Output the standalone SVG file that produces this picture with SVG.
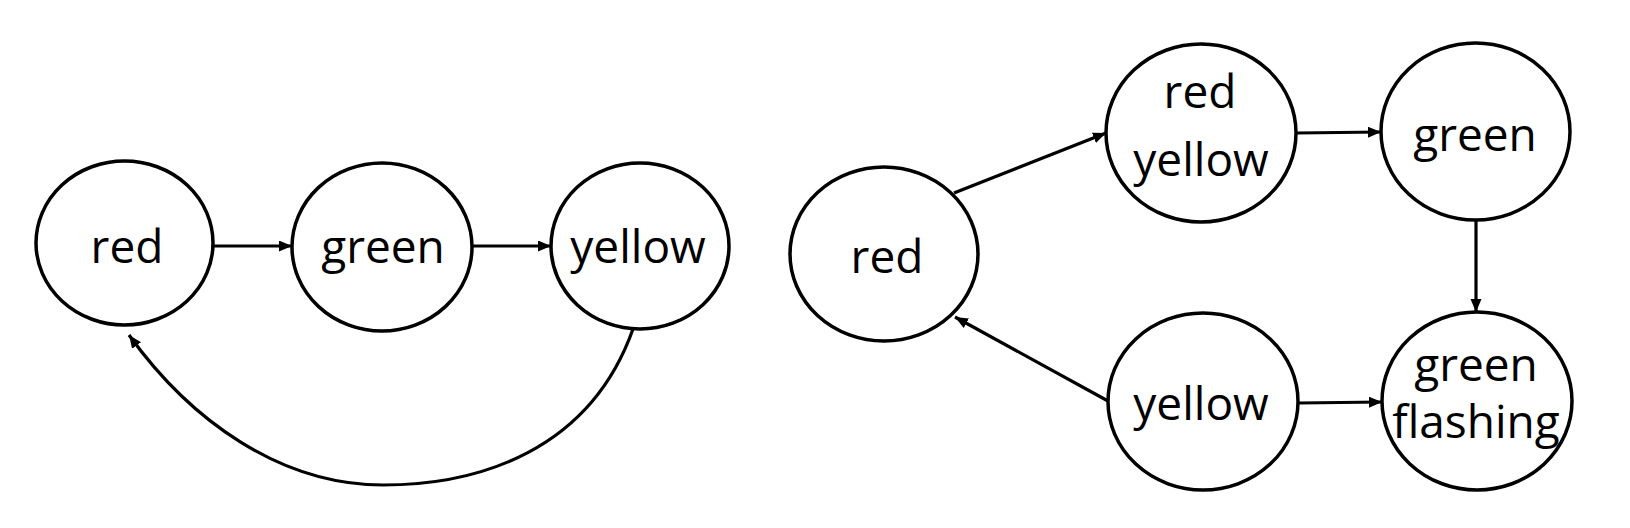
<svg xmlns="http://www.w3.org/2000/svg" width="1630" height="528" viewBox="0 0 1630 528">
<style>
.node ellipse{fill:#fff;stroke:#000;stroke-width:3.5}
.node text{font-family:"Open Sans","Noto Sans",sans-serif;font-size:46px;fill:#000;text-anchor:middle}
.edge{fill:none;stroke:#000;stroke-width:3.2}
</style>
<defs>
<marker id="ah" markerUnits="userSpaceOnUse" markerWidth="14" markerHeight="12" refX="13" refY="5.5" orient="auto">
<path d="M0,0 L13,5.5 L0,11 z" fill="#000"/>
</marker>
</defs>
<g id="connectors">
<line class="edge" x1="213" y1="246" x2="292" y2="246" marker-end="url(#ah)"/>
<line class="edge" x1="471" y1="246" x2="551" y2="246" marker-end="url(#ah)"/>
<path class="edge" d="M633,329 C590,450 480,485 383,485 C280,485 190,420 129,335" marker-end="url(#ah)"/>
<line class="edge" x1="954" y1="193" x2="1106" y2="133" marker-end="url(#ah)"/>
<line class="edge" x1="1297" y1="133" x2="1381" y2="132" marker-end="url(#ah)"/>
<line class="edge" x1="1476" y1="221" x2="1476" y2="312" marker-end="url(#ah)"/>
<line class="edge" x1="1108" y1="401" x2="955" y2="317" marker-end="url(#ah)"/>
<line class="edge" x1="1299" y1="403" x2="1382" y2="402" marker-end="url(#ah)"/>
</g>
<g id="l-red" class="node"><ellipse cx="124.5" cy="243" rx="88.5" ry="82"/><text x="127" y="263">red</text></g>
<g id="l-green" class="node"><ellipse cx="382" cy="247" rx="90" ry="84"/><text x="383" y="263">green</text></g>
<g id="l-yellow" class="node"><ellipse cx="640" cy="246" rx="89" ry="83"/><text x="638" y="263">yellow</text></g>
<g id="r-red" class="node"><ellipse cx="884" cy="254" rx="94" ry="87"/><text x="887" y="273">red</text></g>
<g id="r-redyellow" class="node"><ellipse cx="1201" cy="133" rx="95" ry="89"/><text x="1200" y="108">red</text><text x="1201" y="176">yellow</text></g>
<g id="r-green" class="node"><ellipse cx="1475.5" cy="131.5" rx="94.5" ry="88.5"/><text x="1475" y="151">green</text></g>
<g id="r-yellow" class="node"><ellipse cx="1203" cy="401.5" rx="95" ry="88.5"/><text x="1201" y="420">yellow</text></g>
<g id="r-greenflashing" class="node"><ellipse cx="1477" cy="401" rx="95" ry="89"/><text x="1476" y="381">green</text><text x="1476" y="438">flashing</text></g>
</svg>
